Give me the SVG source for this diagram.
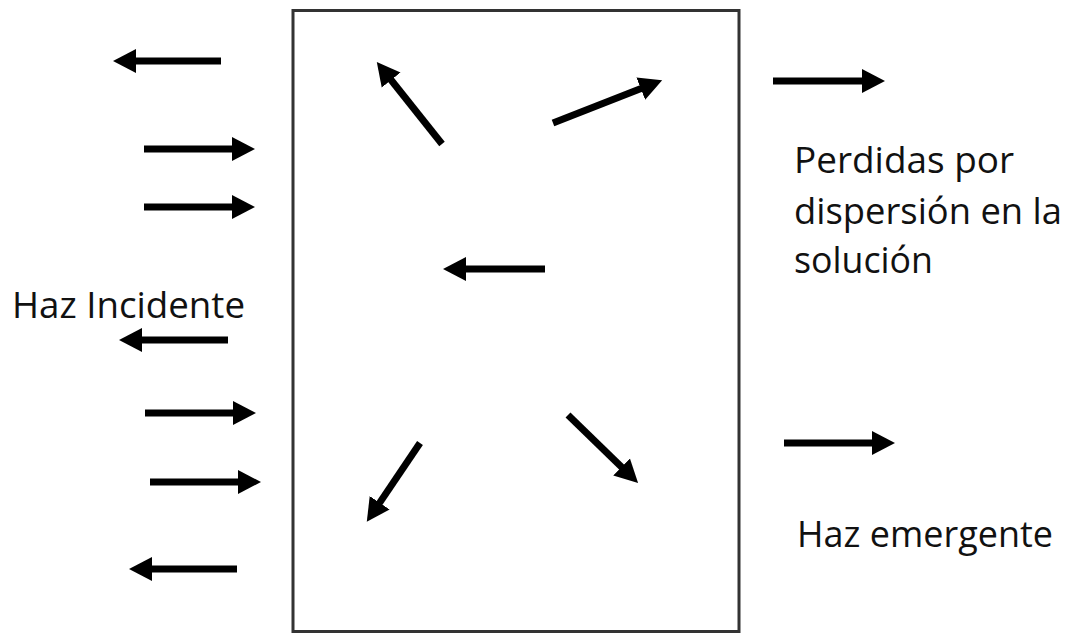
<svg xmlns="http://www.w3.org/2000/svg" width="1071" height="634" viewBox="0 0 1071 634">
<style>
.txt{font-family:"Open Sans","Noto Sans","Liberation Sans",sans-serif;font-size:36px;fill:#111}
.ar{stroke:#000;stroke-width:7;fill:none;marker-end:url(#ah)}
</style>
<defs>
<marker id="ah" markerUnits="userSpaceOnUse" markerWidth="24" markerHeight="26" viewBox="0 0 24 26" refX="1" refY="13" orient="auto">
<path d="M0,1 L23,13 L0,25 z" fill="#000"/>
</marker>
</defs>
<rect width="1071" height="634" fill="#fff"/>
<g id="cell"><rect x="293" y="10.5" width="446" height="621" fill="none" stroke="#333" stroke-width="3"/></g>
<g id="connectors">
<line class="ar" x1="221" y1="61" x2="135" y2="61"/>
<line class="ar" x1="144" y1="149" x2="233" y2="149"/>
<line class="ar" x1="144" y1="207" x2="233" y2="207"/>
<line class="ar" x1="228" y1="340" x2="141" y2="340"/>
<line class="ar" x1="145" y1="413" x2="234" y2="413"/>
<line class="ar" x1="150" y1="482" x2="239" y2="482"/>
<line class="ar" x1="237" y1="569" x2="151" y2="569"/>
<line class="ar" x1="442" y1="144" x2="390.5" y2="79.3"/>
<line class="ar" x1="553" y1="123" x2="641.7" y2="88.2"/>
<line class="ar" x1="545" y1="269" x2="465" y2="269"/>
<line class="ar" x1="420" y1="443" x2="379.1" y2="503.6"/>
<line class="ar" x1="568" y1="415" x2="622.3" y2="467.7"/>
<line class="ar" x1="773" y1="81" x2="863" y2="81"/>
<line class="ar" x1="784" y1="443" x2="873" y2="443"/>
</g>
<g id="label-incidente"><text class="txt" x="12" y="318" textLength="233" lengthAdjust="spacingAndGlyphs">Haz Incidente</text></g>
<g id="label-perdidas">
<text class="txt" x="794" y="173" textLength="220" lengthAdjust="spacingAndGlyphs">Perdidas por</text>
<text class="txt" x="794" y="224" textLength="268" lengthAdjust="spacingAndGlyphs">dispersión en la</text>
<text class="txt" x="794" y="273" textLength="139" lengthAdjust="spacingAndGlyphs">solución</text>
</g>
<g id="label-emergente"><text class="txt" x="797" y="547" textLength="256" lengthAdjust="spacingAndGlyphs">Haz emergente</text></g>
</svg>
